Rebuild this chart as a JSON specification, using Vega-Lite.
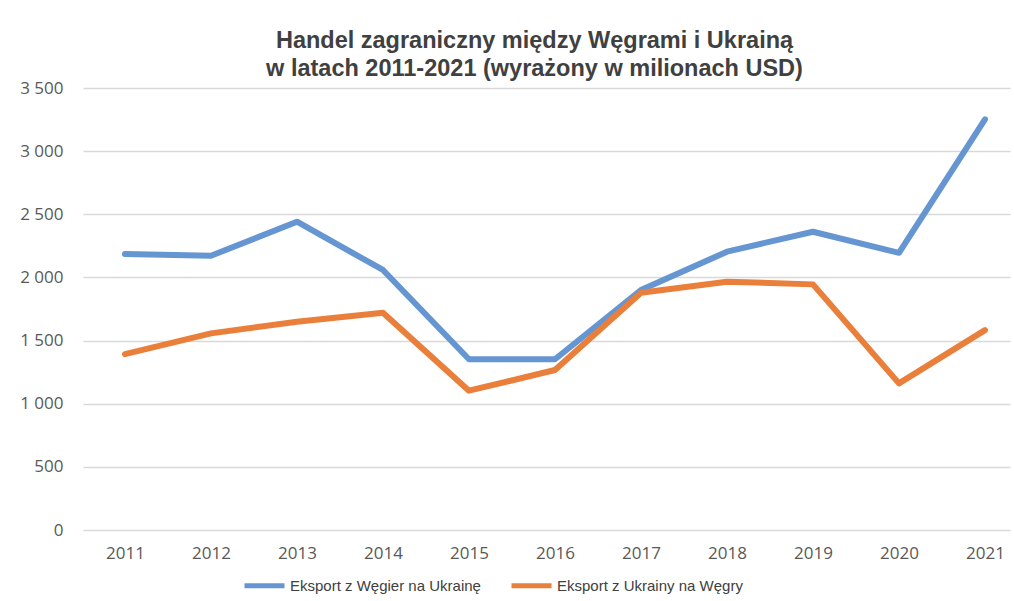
{
  "$schema": "https://vega.github.io/schema/vega-lite/v6.json",
  "autosize": {"type": "none"},
  "width": 927,
  "height": 442,
  "padding": {"left": 83, "top": 88, "right": 4, "bottom": 71},
  "background": "white",
  "title": {
    "text": ["Handel zagraniczny między Węgrami i Ukrainą", "w latach 2011-2021 (wyrażony w milionach USD)"],
    "font": "Liberation Sans",
    "fontSize": 23.5,
    "fontWeight": "bold",
    "color": "#404040",
    "anchor": "middle",
    "dx": -12,
    "offset": -1,
    "lineHeight": 28
  },
  "data": {
    "values": [
      {"year": 2011, "series": "Eksport z Węgier na Ukrainę", "value": 2185},
      {"year": 2012, "series": "Eksport z Węgier na Ukrainę", "value": 2172},
      {"year": 2013, "series": "Eksport z Węgier na Ukrainę", "value": 2441},
      {"year": 2014, "series": "Eksport z Węgier na Ukrainę", "value": 2059},
      {"year": 2015, "series": "Eksport z Węgier na Ukrainę", "value": 1352},
      {"year": 2016, "series": "Eksport z Węgier na Ukrainę", "value": 1352},
      {"year": 2017, "series": "Eksport z Węgier na Ukrainę", "value": 1900},
      {"year": 2018, "series": "Eksport z Węgier na Ukrainę", "value": 2204},
      {"year": 2019, "series": "Eksport z Węgier na Ukrainę", "value": 2362},
      {"year": 2020, "series": "Eksport z Węgier na Ukrainę", "value": 2195},
      {"year": 2021, "series": "Eksport z Węgier na Ukrainę", "value": 3252},
      {"year": 2011, "series": "Eksport z Ukrainy na Węgry", "value": 1393},
      {"year": 2012, "series": "Eksport z Ukrainy na Węgry", "value": 1557},
      {"year": 2013, "series": "Eksport z Ukrainy na Węgry", "value": 1649},
      {"year": 2014, "series": "Eksport z Ukrainy na Węgry", "value": 1720},
      {"year": 2015, "series": "Eksport z Ukrainy na Węgry", "value": 1103},
      {"year": 2016, "series": "Eksport z Ukrainy na Węgry", "value": 1267},
      {"year": 2017, "series": "Eksport z Ukrainy na Węgry", "value": 1879},
      {"year": 2018, "series": "Eksport z Ukrainy na Węgry", "value": 1966},
      {"year": 2019, "series": "Eksport z Ukrainy na Węgry", "value": 1945},
      {"year": 2020, "series": "Eksport z Ukrainy na Węgry", "value": 1161},
      {"year": 2021, "series": "Eksport z Ukrainy na Węgry", "value": 1583}
    ]
  },
  "mark": {"type": "line", "strokeWidth": 6, "strokeCap": "round", "strokeJoin": "round"},
  "encoding": {
    "x": {
      "field": "year",
      "type": "quantitative",
      "scale": {"domain": [2010.512, 2021.291], "nice": false, "zero": false},
      "axis": {
        "title": null,
        "values": [2011, 2012, 2013, 2014, 2015, 2016, 2017, 2018, 2019, 2020, 2021],
        "format": "d",
        "labelAngle": 0,
        "labelFont": "Open Sans",
        "labelFontSize": 17,
        "labelColor": "#595959",
        "labelPadding": 15,
        "labelFlush": false,
        "labelOverlap": false,
        "ticks": false,
        "domain": false,
        "grid": false
      }
    },
    "y": {
      "field": "value",
      "type": "quantitative",
      "scale": {"domain": [0, 3500]},
      "axis": {
        "title": null,
        "values": [0, 500, 1000, 1500, 2000, 2500, 3000, 3500],
        "labelExpr": "replace(format(datum.value, ','), ',', ' ')",
        "labelFont": "Open Sans",
        "labelFontSize": 17,
        "labelColor": "#595959",
        "labelPadding": 20,
        "ticks": false,
        "domain": false,
        "grid": true,
        "gridColor": "#d9d9d9",
        "gridWidth": 1.5
      }
    },
    "color": {
      "field": "series",
      "type": "nominal",
      "scale": {
        "domain": ["Eksport z Węgier na Ukrainę", "Eksport z Ukrainy na Węgry"],
        "range": ["#6596d2", "#e97f3a"]
      },
      "legend": {
        "title": null,
        "orient": "none",
        "legendX": 159,
        "legendY": 475,
        "direction": "horizontal",
        "symbolType": "stroke",
        "symbolSize": 1600,
        "symbolStrokeWidth": 5,
        "labelFont": "Liberation Sans",
        "labelFontSize": 15,
        "labelColor": "#404040",
        "labelLimit": 300,
        "labelOffset": 3,
        "columnPadding": 20
      }
    }
  },
  "config": {"view": {"stroke": null}}
}
